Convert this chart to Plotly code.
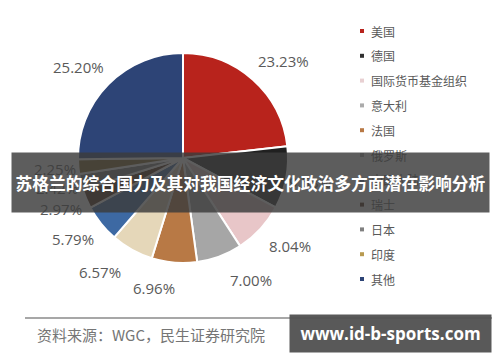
import math
import plotly.graph_objects as go

categories = ["美国", "德国", "国际货币基金组织", "意大利", "法国", "俄罗斯",
              "中国大陆", "瑞士", "日本", "印度", "其他"]
shares = [23.23, 9.58, 8.04, 7.00, 6.96, 6.57, 5.79, 2.97, 2.42, 2.25, 25.20]
colors = ["#B8231C", "#202020", "#E8C6C8", "#A6A6A6", "#B87945", "#E5D7B9",
          "#3D69A3", "#4B2811", "#7A7A7A", "#7C6020", "#2D4476"]
legend_colors = ["#B8231C", "#303030", "#E8D0D2", "#ABABAB", "#B87945", "#A8A8A8",
                 "#3D69A3", "#4B2811", "#808080", "#B89A50", "#2D4476"]
title_text = "苏格兰的综合国力及其对我国经济文化政治多方面潜在影响分析"
source_text = "资料来源：WGC，民生证券研究院"
watermark = "www.id-b-sports.com"

W, H = 500, 362
cx, cy, r = 183, 158, 105

def px(x):
    return x / W

def py(y):
    return 1 - y / H

fig = go.Figure(go.Pie(
    labels=categories, values=shares, sort=False, direction="clockwise",
    marker=dict(colors=colors, line=dict(color="white", width=2)),
    textinfo="none", hoverinfo="label+value", showlegend=False,
    domain=dict(x=[px(cx - r), px(cx + r)], y=[py(cy + r), py(cy - r)]),
))

annotations = []
shapes = []

# percentage labels placed outside slices from cumulative angles
total = sum(shares)
cum = 0
for v in shares:
    mid = (cum + v / 2) / total * 2 * math.pi
    cum += v
    dx, dy = math.sin(mid), -math.cos(mid)
    lx = cx + math.copysign(1, dx) * 128 * abs(dx) ** 0.6
    ly = cy + dy * 130
    annotations.append(dict(
        x=px(lx), y=py(ly), xref="paper", yref="paper",
        text=f"{v:.2f}%", showarrow=False,
        font=dict(family="Open Sans, Noto Sans", size=15, color="#5a5a5a"),
        xanchor="center", yanchor="middle"))

# legend
for i, (name, c) in enumerate(zip(categories, legend_colors)):
    yy = 31 + i * 24.8
    shapes.append(dict(type="rect", xref="paper", yref="paper",
                       x0=px(360), x1=px(364), y0=py(yy + 2), y1=py(yy - 2),
                       fillcolor=c, line=dict(width=0)))
    annotations.append(dict(
        x=px(369), y=py(yy), xref="paper", yref="paper", text=name,
        showarrow=False, xanchor="left", yanchor="middle",
        font=dict(family="Noto Sans CJK SC", size=12, color="#595959")))

# source line and text
shapes.append(dict(type="line", xref="paper", yref="paper",
                   x0=px(25), x1=px(492), y0=py(318), y1=py(318),
                   line=dict(color="#8a8a8a", width=1.5)))
annotations.append(dict(
    x=px(35), y=py(334), xref="paper", yref="paper", text=source_text,
    showarrow=False, xanchor="left", yanchor="middle",
    font=dict(family="Noto Sans CJK SC", size=15, color="#757575")))

# banner
annotations.append(dict(
    x=px(250.5), y=py(182), xref="paper", yref="paper", text=f"<b>{title_text}</b>",
    showarrow=False, xanchor="center", yanchor="middle",
    width=477, height=59, bgcolor="rgba(60,60,60,0.83)", borderpad=0,
    font=dict(family="Noto Sans CJK SC", size=16.8, color="white")))

# watermark
annotations.append(dict(
    x=px(390.5), y=py(333.5), xref="paper", yref="paper", text=f"<b>{watermark}</b>",
    showarrow=False, xanchor="center", yanchor="middle",
    width=201, height=37, bgcolor="rgba(80,80,80,0.95)", borderpad=0,
    font=dict(family="Open Sans, Noto Sans", size=17, color="white")))

fig.update_layout(
    width=W, height=H, margin=dict(l=0, r=0, t=0, b=0),
    paper_bgcolor="white", plot_bgcolor="white",
    annotations=annotations, shapes=shapes,
)

fig.write_html("out.html")
